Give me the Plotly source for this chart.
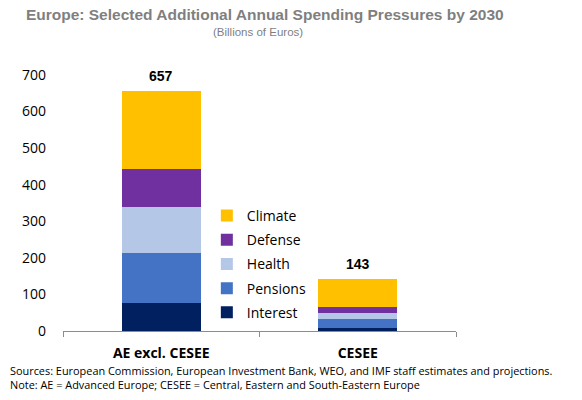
import plotly.graph_objects as go

# Additional annual spending pressures by 2030, billions of euros
regions = ['AE excl. CESEE', 'CESEE']
interest = [77, 8]
pensions = [136, 26]
health = [126, 14]
defense = [105, 19]
climate = [213, 76]

series = [
    ('Interest', interest, '#002060'),
    ('Pensions', pensions, '#4472C4'),
    ('Health', health, '#B4C7E7'),
    ('Defense', defense, '#7030A0'),
    ('Climate', climate, '#FFC000'),
]

totals = [sum(v) for v in zip(interest, pensions, health, defense, climate)]

fig = go.Figure()
for i, (name, vals, color) in enumerate(series):
    fig.add_trace(go.Bar(x=regions, y=vals, name=name, legendgroup=name,
                         legendrank=10 - i,
                         marker=dict(color=color, line=dict(width=0))))

# total labels on top of each bar
for reg, tot in zip(regions, totals):
    fig.add_annotation(x=reg, y=tot, text=f'<b>{tot}</b>', showarrow=False,
                       yanchor='bottom', yshift=5,
                       font=dict(family='Liberation Sans', size=14, color='black'))

fig.update_layout(
    width=582, height=400,
    margin=dict(l=63, r=126, t=75, b=69),
    barmode='stack', bargap=0.6,
    plot_bgcolor='white', paper_bgcolor='white',
    font=dict(family='Open Sans', color='black'),
    showlegend=True,
    legend=dict(x=0.366, xanchor='left', y=0.512, yanchor='top',
                traceorder='grouped', tracegroupgap=3,
                font=dict(family='Open Sans', size=14, color='black'),
                bgcolor='rgba(0,0,0,0)', itemwidth=30),
    title=dict(text='<b>Europe: Selected Additional Annual Spending Pressures by 2030</b>',
               x=0.455, xanchor='center', y=0.9625, yanchor='middle',
               font=dict(family='Liberation Sans', size=15.5, color='#7F7F7F')),
)

fig.add_annotation(xref='paper', yref='paper', x=0.496, y=1.168, showarrow=False,
                   xanchor='center', yanchor='middle', text='(Billions of Euros)',
                   font=dict(family='Liberation Sans', size=11.5, color='#7F7F7F'))

fig.update_xaxes(showline=True, linecolor='#8C8C8C', linewidth=1,
                 ticks='outside', tickson='boundaries', ticklen=5, tickcolor='#8C8C8C',
                 ticklabelstandoff=9,
                 tickfont=dict(family='Open Sans', size=14, color='black'),
                 showgrid=False)
fig.update_xaxes(tickprefix='<b>', ticksuffix='</b>')
fig.update_yaxes(range=[0, 700], dtick=100, showgrid=False, showline=False,
                 zeroline=False, ticks='', ticklabelstandoff=16,
                 tickfont=dict(family='Open Sans', size=14, color='black'))

# source and note lines under the chart
notes = ('Sources: European Commission, European Investment Bank, WEO, and IMF staff estimates and projections.'
         '<br>Note: AE = Advanced Europe; CESEE = Central, Eastern and South-Eastern Europe')
fig.add_annotation(xref='paper', yref='paper', x=-0.14, y=-0.182, xanchor='left', yanchor='middle',
                   align='left', showarrow=False, text=notes,
                   font=dict(family='Open Sans', size=10.9, color='black'))

fig.write_html('out.html', config={'displayModeBar': False},
               post_script="document.body.style.margin='0';")
